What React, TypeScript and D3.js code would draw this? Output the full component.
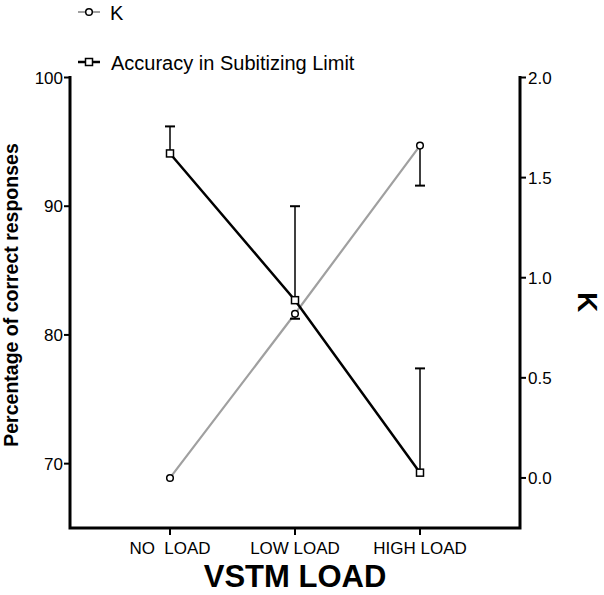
import React from "react";
import * as d3 from "d3";

const categories = ["NO  LOAD", "LOW LOAD", "HIGH LOAD"];
const accuracy = [94.1, 82.7, 69.3];
const accuracyErr = [2.1, 7.3, 8.1];
const kValues = [0.0, 0.82, 1.66];
const kErr = [0, 0.025, 0.2];
const leftTicks = [70, 80, 90, 100];
const rightTicks = [0, 0.5, 1, 1.5, 2];

const W = 604;
const H = 595;
const m = { left: 70, right: 520, top: 77.5, bottom: 528 };
const font = "Liberation Sans, Arial, sans-serif";

export default function App() {
  const x = d3.scalePoint<string>().domain(categories).range([m.left, m.right]).padding(0.8);
  const yL = d3.scaleLinear().domain([65, 100]).range([m.bottom, m.top]);
  const yR = d3.scaleLinear().domain([-0.25, 2.0]).range([m.bottom, m.top]);

  const accLine = d3.line<number>().x((_, i) => x(categories[i])!).y((d) => yL(d));
  const kLine = d3.line<number>().x((_, i) => x(categories[i])!).y((d) => yR(d));

  return (
    <svg width={W} height={H} style={{ position: "absolute", left: 0, top: 0 }} fontFamily={font}>
      {/* legend */}
      <g>
        <line x1={78} x2={100} y1={12} y2={12} stroke="#a0a0a0" strokeWidth={2} />
        <circle cx={89} cy={12} r={3.3} fill="white" stroke="black" strokeWidth={1.5} />
        <text x={110} y={19.5} fontSize={20}>K</text>
        <line x1={78} x2={100} y1={62} y2={62} stroke="black" strokeWidth={2.5} />
        <rect x={85.5} y={58.5} width={7} height={7} fill="white" stroke="black" strokeWidth={1.5} />
        <text x={111} y={69.5} fontSize={20}>Accuracy in Subitizing Limit</text>
      </g>

      {/* axes */}
      <path d={`M${m.left},${m.top - 1.5}V${m.bottom}H${m.right}V${m.top - 1.5}`} fill="none" stroke="black" strokeWidth={3} />
      {leftTicks.map((t) => (
        <g key={"l" + t}>
          <line x1={m.left - 6} x2={m.left} y1={yL(t)} y2={yL(t)} stroke="black" strokeWidth={2} />
          <text x={m.left - 7} y={yL(t) + 6} fontSize={17} textAnchor="end">{t}</text>
        </g>
      ))}
      {rightTicks.map((t) => (
        <g key={"r" + t}>
          <line x1={m.right} x2={m.right + 6} y1={yR(t)} y2={yR(t)} stroke="black" strokeWidth={2} />
          <text x={m.right + 8} y={yR(t) + 6} fontSize={17}>{t.toFixed(1)}</text>
        </g>
      ))}
      {categories.map((c) => (
        <g key={c}>
          <line x1={x(c)} x2={x(c)} y1={m.bottom} y2={m.bottom + 7} stroke="black" strokeWidth={2} />
          <text x={x(c)} y={554} fontSize={17} textAnchor="middle" style={{ whiteSpace: "pre" }}>{c}</text>
        </g>
      ))}

      {/* axis titles */}
      <text x={295} y={587} fontSize={31} fontWeight="bold" textAnchor="middle">VSTM LOAD</text>
      <text transform="translate(18,295) rotate(-90)" fontSize={19.5} fontWeight="bold" textAnchor="middle">Percentage of correct responses</text>
      <text transform="translate(578,302) rotate(90)" fontSize={28} fontWeight="bold" textAnchor="middle">K</text>

      {/* K series */}
      <path d={kLine(kValues)!} fill="none" stroke="#a0a0a0" strokeWidth={2.2} />
      {kValues.map((v, i) =>
        kErr[i] > 0 ? (
          <g key={"ke" + i}>
            <line x1={x(categories[i])} x2={x(categories[i])} y1={yR(v)} y2={yR(v - kErr[i])} stroke="black" strokeWidth={1.5} />
            <line x1={x(categories[i])! - 5} x2={x(categories[i])! + 5} y1={yR(v - kErr[i])} y2={yR(v - kErr[i])} stroke="black" strokeWidth={2} />
          </g>
        ) : null
      )}

      {/* accuracy series */}
      <path d={accLine(accuracy)!} fill="none" stroke="black" strokeWidth={2.5} />
      {accuracy.map((v, i) => (
        <g key={"ae" + i}>
          <line x1={x(categories[i])} x2={x(categories[i])} y1={yL(v)} y2={yL(v + accuracyErr[i])} stroke="black" strokeWidth={1.5} />
          <line x1={x(categories[i])! - 5} x2={x(categories[i])! + 5} y1={yL(v + accuracyErr[i])} y2={yL(v + accuracyErr[i])} stroke="black" strokeWidth={2} />
        </g>
      ))}

      {kValues.map((v, i) => (
        <circle key={"kc" + i} cx={x(categories[i])} cy={yR(v)} r={3.3} fill="white" stroke="black" strokeWidth={1.5} />
      ))}
      {accuracy.map((v, i) => (
        <rect key={"ar" + i} x={x(categories[i])! - 3.5} y={yL(v) - 3.5} width={7} height={7} fill="white" stroke="black" strokeWidth={1.5} />
      ))}
    </svg>
  );
}
